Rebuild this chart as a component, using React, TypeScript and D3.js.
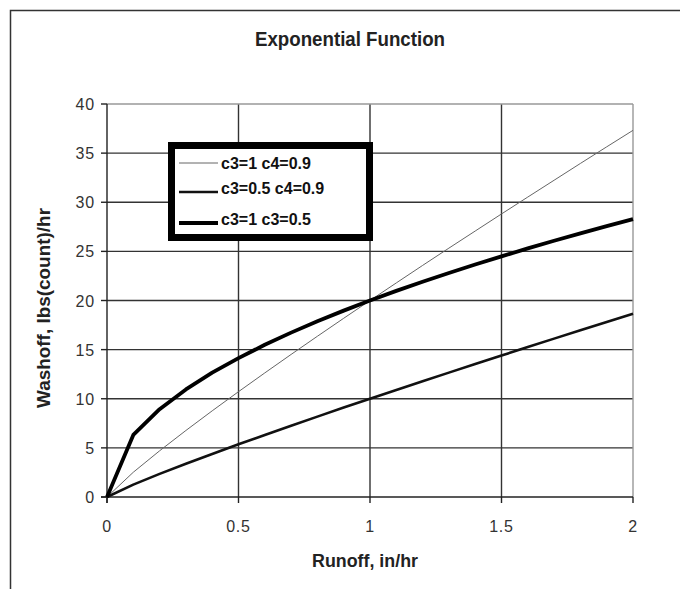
import React from 'react';
import * as d3 from 'd3';

// runoff values (in/hr)
const runoff = [0, 0.1, 0.2, 0.3, 0.4, 0.5, 0.6, 0.7, 0.8, 0.9, 1.0, 1.1, 1.2, 1.3, 1.4, 1.5, 1.6, 1.7, 1.8, 1.9, 2.0];
// washoff series
const washoffA = [0, 2.52, 4.70, 6.77, 8.77, 10.72, 12.63, 14.51, 16.36, 18.19, 20.0, 21.79, 23.57, 25.33, 27.07, 28.81, 30.53, 32.24, 33.95, 35.64, 37.32];
const washoffB = [0, 1.26, 2.35, 3.38, 4.38, 5.36, 6.31, 7.25, 8.18, 9.10, 10.0, 10.90, 11.78, 12.66, 13.54, 14.40, 15.26, 16.12, 16.97, 17.82, 18.66];
const washoffC = [0, 6.32, 8.94, 10.95, 12.65, 14.14, 15.49, 16.73, 17.89, 18.97, 20.0, 20.98, 21.91, 22.80, 23.66, 24.49, 25.30, 26.08, 26.83, 27.57, 28.28];

const xTicks = [0, 0.5, 1, 1.5, 2];
const yTicks = [0, 5, 10, 15, 20, 25, 30, 35, 40];
const legendLabels = ['c3=1 c4=0.9', 'c3=0.5 c4=0.9', 'c3=1 c3=0.5'];

const W = 680;
const H = 589;

const App: React.FC = () => {
  const x = d3.scaleLinear().domain([0, 2]).range([107, 633]);
  const y = d3.scaleLinear().domain([0, 40]).range([497, 104]);

  const line = d3.line<number>()
    .x((_, i) => x(runoff[i]))
    .y((d) => y(d));

  const series = [
    { values: washoffA, width: 1, color: '#666' },
    { values: washoffB, width: 2.6, color: '#111' },
    { values: washoffC, width: 3.8, color: '#000' },
  ];

  const font = '"Liberation Sans", Arial, sans-serif';

  return (
    <svg width={W} height={H} style={{ position: 'absolute', left: 0, top: 0 }}>
      <rect x={0} y={0} width={W} height={H} fill="#fff" />
      {/* outer chart border */}
      <rect x={10.5} y={10.5} width={720} height={620} fill="none" stroke="#333" strokeWidth={1.5} />

      {/* condensed bold titles */}
      <text x={255} y={46} fontFamily={font} fontWeight="bold" fontSize={20}
        textLength={190} lengthAdjust="spacingAndGlyphs" fill="#222">Exponential Function</text>

      {/* gridlines */}
      {yTicks.filter((t) => t > 0 && t < 40).map((t) => (
        <line key={'gy' + t} x1={x(0)} x2={x(2)} y1={y(t)} y2={y(t)} stroke="#333" strokeWidth={1.4} />
      ))}
      {xTicks.filter((t) => t > 0 && t < 2).map((t) => (
        <line key={'gx' + t} x1={x(t)} x2={x(t)} y1={y(0)} y2={y(40)} stroke="#333" strokeWidth={1.4} />
      ))}
      {/* plot area border (top/right) */}
      <line x1={x(0)} x2={x(2)} y1={y(40)} y2={y(40)} stroke="#999" strokeWidth={1.4} />
      <line x1={x(2)} x2={x(2)} y1={y(40)} y2={y(0)} stroke="#999" strokeWidth={1.4} />

      {/* axes */}
      <line x1={x(0)} x2={x(0)} y1={y(40)} y2={y(0) + 6} stroke="#222" strokeWidth={1.4} />
      <line x1={x(0) - 6} x2={x(2)} y1={y(0)} y2={y(0)} stroke="#222" strokeWidth={1.4} />
      {yTicks.map((t) => (
        <g key={'yt' + t}>
          <line x1={x(0) - 6} x2={x(0)} y1={y(t)} y2={y(t)} stroke="#222" strokeWidth={1.4} />
          <text x={x(0) - 12} y={y(t) + 6} textAnchor="end" fontFamily={font} fontSize={16}
            letterSpacing={0.8} fill="#333">{t}</text>
        </g>
      ))}
      {xTicks.map((t) => (
        <g key={'xt' + t}>
          <line x1={x(t)} x2={x(t)} y1={y(0)} y2={y(0) + 6} stroke="#222" strokeWidth={1.4} />
          <text x={x(t)} y={y(0) + 35} textAnchor="middle" fontFamily={font} fontSize={16}
            letterSpacing={0.8} fill="#333">{t}</text>
        </g>
      ))}

      {/* series */}
      {series.map((s, i) => (
        <path key={'s' + i} d={line(s.values) || ''} fill="none" stroke={s.color} strokeWidth={s.width}
          strokeLinejoin="round" />
      ))}

      {/* axis titles */}
      <text x={312} y={567} fontFamily={font} fontWeight="bold" fontSize={19}
        textLength={106} lengthAdjust="spacingAndGlyphs" fill="#222">Runoff, in/hr</text>
      <text transform="translate(50,408) rotate(-90)" fontFamily={font} fontWeight="bold"
        fontSize={19} textLength={200} lengthAdjust="spacingAndGlyphs" fill="#222">Washoff, lbs(count)/hr</text>

      {/* legend */}
      <rect x={171.5} y={145.5} width={198} height={92} fill="#fff" stroke="#000" strokeWidth={7} />
      {legendLabels.map((lab, i) => {
        const ly = [163, 188, 219][i];
        return (
          <g key={'lg' + i}>
            <line x1={179} x2={218} y1={ly + (i === 0 ? 0 : 4)} y2={ly + (i === 0 ? 0 : 4)}
              stroke={series[i].color} strokeWidth={series[i].width} />
            <text x={221} y={ly + 6} fontFamily={font} fontWeight="bold" fontSize={16} fill="#111">{lab}</text>
          </g>
        );
      })}
    </svg>
  );
};

export default App;
